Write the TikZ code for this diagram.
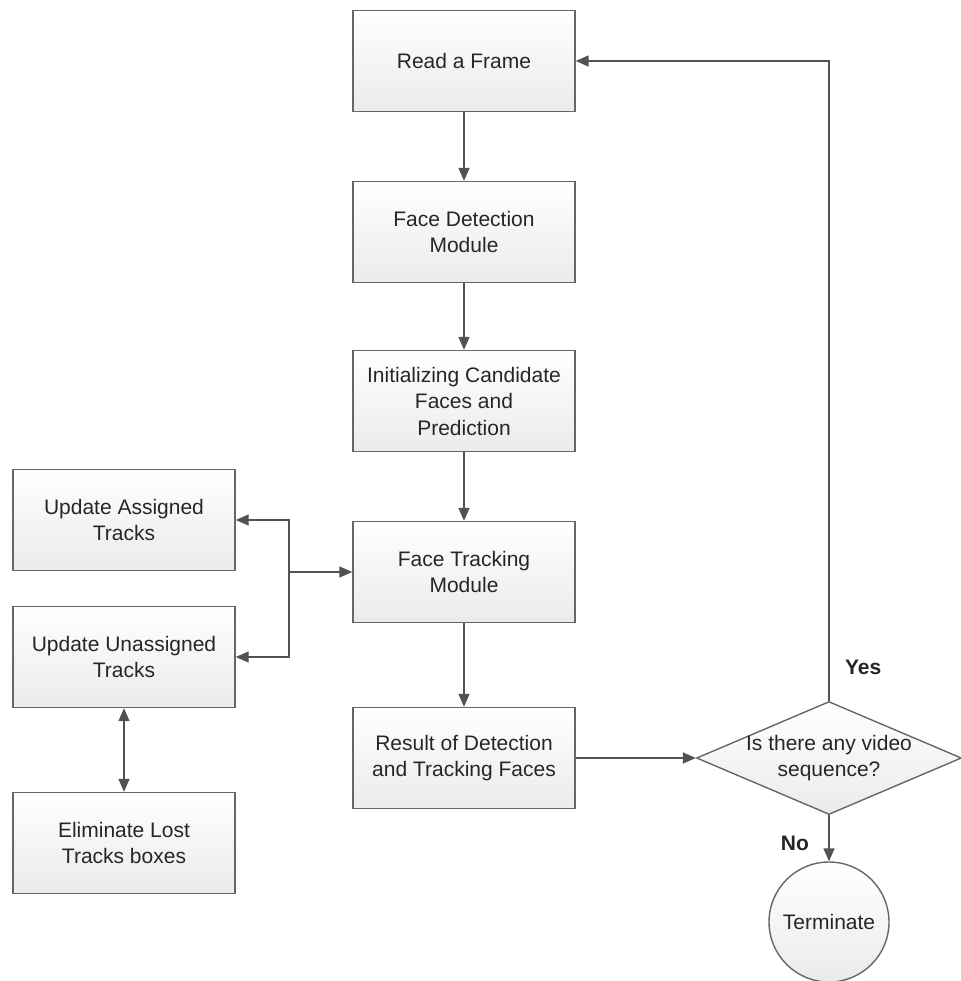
\documentclass[tikz,border=0pt]{standalone}
\usepackage{fontspec}
\setmainfont{Liberation Sans}
\usetikzlibrary{shapes.geometric,arrows.meta}

\begin{document}
\begin{tikzpicture}[x=1pt, y=-1pt,
        box/.style={draw=black!60, line width=1.4pt, top color=white, bottom color=black!8,
            minimum width=222pt, minimum height=101pt, align=center, text=black!85,
            font=\fontsize{21}{26.5}\selectfont},
        arr/.style={draw=black!68, line width=1.5pt, -{Triangle[length=13pt,width=11pt]}},
        lbl/.style={font=\fontsize{21}{25}\selectfont\bfseries, text=black!85}]
        \useasboundingbox (0,0) rectangle (960,981);
        \node[box] (read) at (464,61) {Read a Frame};
        \node[box] (detect) at (464,232) {Face Detection\\Module};
        \node[box] (init) at (464,401) {Initializing Candidate\\Faces and\\Prediction};
        \node[box] (track) at (464,572) {Face Tracking\\Module};
        \node[box] (result) at (464,758) {Result of Detection\\and Tracking Faces};
        \node[box] (assign) at (124,520) {Update Assigned\\Tracks};
        \node[box] (unassign) at (124,657) {Update Unassigned\\Tracks};
        \node[box] (elim) at (124,843) {Eliminate Lost\\Tracks boxes};
        \node[box, diamond, aspect=2.35, inner xsep=-6pt, inner ysep=0pt,
            minimum width=265pt, minimum height=113pt] (video) at (829,758) {Is there any video\\sequence?};
        \node[box, circle, minimum size=120pt, inner sep=0pt] (stop) at (829,922) {Terminate};
        \coordinate (split) at (289,572);
        \draw[arr] (read) -- (detect);
        \draw[arr] (detect) -- (init);
        \draw[arr] (init) -- (track);
        \draw[arr] (track) -- (result);
        \draw[arr] (result) -- (video);
        \draw[arr] (video.north) |- (read.east) node[pos=0.026, right, lbl, xshift=12pt] {Yes};
        \draw[arr] (video.south) -- (stop) node[midway, left, lbl, xshift=-16pt, yshift=-5pt] {No};
        % track module splits to the two update boxes
        \draw[arr] (split) -- (track.west);
        \draw[arr] (split) |- (assign.east);
        \draw[arr] (split) |- (unassign.east);
        \draw[arr, {Triangle[length=13pt,width=11pt]}-{Triangle[length=13pt,width=11pt]}] (unassign) -- (elim);
    \end{tikzpicture}
\end{document}
